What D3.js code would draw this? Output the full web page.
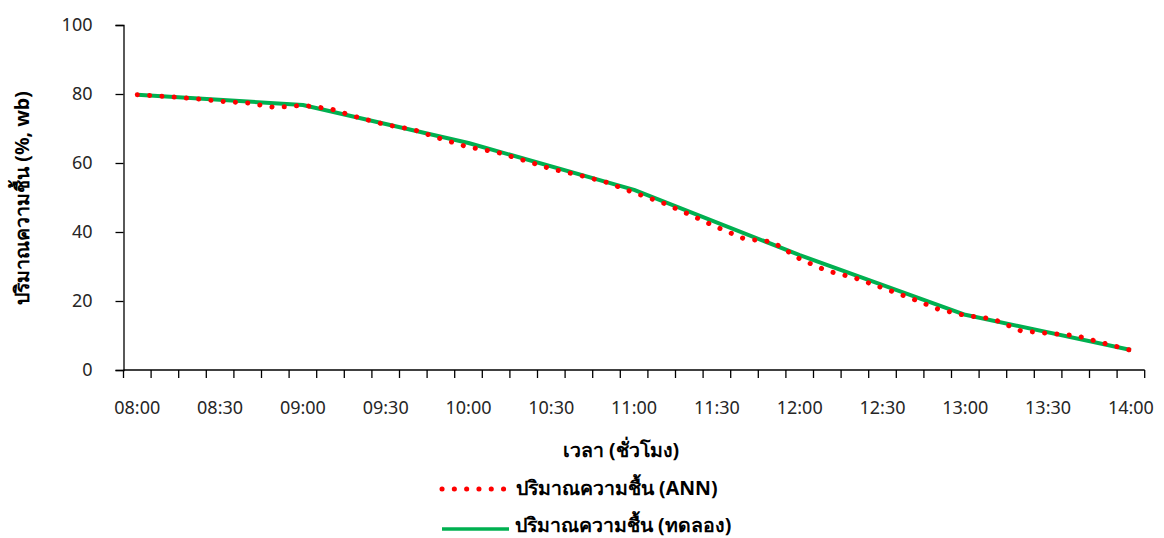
<!DOCTYPE html>
<html>
<head>
<meta charset="utf-8">
<title>Moisture content</title>
<script src="https://cdnjs.cloudflare.com/ajax/libs/d3/7.8.5/d3.min.js"></script>
<style>
    body { margin: 0; background: #fff; }
    text { font-family: "Noto Sans", sans-serif; fill: #262626; }
    .tick text { font-size: 18px; }
    .title { font-size: 19.5px; font-weight: bold; fill: #000; }
</style>
</head>
<body>
<svg id="chart" width="1164" height="538"></svg>
<script>
// 10-minute categories on the x axis
var times = ["08:00", "08:10", "08:20", "08:30", "08:40", "08:50",
    "09:00", "09:10", "09:20", "09:30", "09:40", "09:50",
    "10:00", "10:10", "10:20", "10:30", "10:40", "10:50",
    "11:00", "11:10", "11:20", "11:30", "11:40", "11:50",
    "12:00", "12:10", "12:20", "12:30", "12:40", "12:50",
    "13:00", "13:10", "13:20", "13:30", "13:40", "13:50", "14:00"];

// ANN prediction, one value per category
var annValues = [79.8, 79.3, 78.7, 77.9, 77.4, 76.1,
    76.7, 75.7, 73.2, 71.1, 69.7, 67.0,
    64.6, 63.2, 60.8, 58.3, 56.5, 54.4,
    51.4, 48.6, 45.1, 41.4, 38.0, 37.2,
    32.2, 28.7, 26.7, 23.8, 20.9, 17.7,
    15.8, 14.8, 11.4, 10.6, 10.0, 7.8, 5.7];

// experiment, measured hourly
var expTimes = ["08:00", "09:00", "10:00", "11:00", "12:00", "13:00", "14:00"];
var expValues = [79.8, 76.8, 65.8, 52.2, 33.3, 16.0, 5.8];

var yTicks = [0, 20, 40, 60, 80, 100];
var xLabels = ["08:00", "08:30", "09:00", "09:30", "10:00", "10:30", "11:00",
    "11:30", "12:00", "12:30", "13:00", "13:30", "14:00"];

var yTitle = "ปริมาณความชื้น (%, wb)";
var xTitle = "เวลา (ชั่วโมง)";
var seriesNames = ["ปริมาณความชื้น (ANN)", "ปริมาณความชื้น (ทดลอง)"];

var svg = d3.select("#chart");

var x = d3.scaleBand()
    .domain(times)
    .range([123.5, 1144.7])
    .paddingInner(0)
    .paddingOuter(0);

var y = d3.scaleLinear()
    .domain([0, 100])
    .range([370, 25]);

function cx(t) {
    return x(t) + x.bandwidth() / 2;
}

// y axis
var yAxis = svg.append("g")
    .attr("transform", "translate(123.5,0)")
    .call(d3.axisLeft(y).tickValues(yTicks).tickSize(8).tickPadding(23));
yAxis.select(".domain").attr("stroke", "#000").attr("stroke-width", 1.3);
yAxis.selectAll(".tick line").attr("stroke", "#000").attr("stroke-width", 1.3);
yAxis.selectAll(".tick text").attr("fill", "#262626");

// x axis: ticks on category edges, labels every 30 min
var xAxis = svg.append("g")
    .attr("transform", "translate(0,370)");
xAxis.append("line")
    .attr("x1", x.range()[0])
    .attr("x2", x.range()[1])
    .attr("stroke", "#000")
    .attr("stroke-width", 1.3);
var edges = times.map(function(t) { return x(t); }).concat([x.range()[1]]);
xAxis.selectAll(".xtick")
    .data(edges)
    .enter().append("line")
    .attr("class", "xtick")
    .attr("x1", function(d) { return d; })
    .attr("x2", function(d) { return d; })
    .attr("y1", 0)
    .attr("y2", 8)
    .attr("stroke", "#000")
    .attr("stroke-width", 1.3);
xAxis.selectAll(".xlabel")
    .data(xLabels)
    .enter().append("text")
    .attr("class", "xlabel")
    .attr("x", function(d) { return cx(d); })
    .attr("y", 44)
    .attr("text-anchor", "middle")
    .style("font-size", "18px")
    .text(function(d) { return d; });

// lines
var line = d3.line()
    .x(function(d) { return cx(d[0]); })
    .y(function(d) { return y(d[1]); });

svg.append("path")
    .datum(d3.zip(expTimes, expValues))
    .attr("d", line)
    .attr("fill", "none")
    .attr("stroke", "#00B050")
    .attr("stroke-width", 4)
    .attr("stroke-linejoin", "round");

svg.append("path")
    .datum(d3.zip(times, annValues))
    .attr("d", line)
    .attr("fill", "none")
    .attr("stroke", "#FF0000")
    .attr("stroke-width", 5)
    .attr("stroke-linecap", "round")
    .attr("stroke-dasharray", "0.1,12.2");

// axis titles
svg.append("text")
    .attr("class", "title")
    .attr("transform", "translate(29,198) rotate(-90)")
    .attr("text-anchor", "middle")
    .text(yTitle);

svg.append("text")
    .attr("class", "title")
    .attr("x", 621)
    .attr("y", 457)
    .attr("text-anchor", "middle")
    .text(xTitle);

// legend
var legend = svg.append("g");
legend.append("line")
    .attr("x1", 442).attr("x2", 506)
    .attr("y1", 489).attr("y2", 489)
    .attr("stroke", "#FF0000")
    .attr("stroke-width", 5)
    .attr("stroke-linecap", "round")
    .attr("stroke-dasharray", "0.1,12.2");
legend.append("text")
    .attr("class", "title")
    .attr("x", 516)
    .attr("y", 495)
    .text(seriesNames[0]);
legend.append("line")
    .attr("x1", 442).attr("x2", 509)
    .attr("y1", 529).attr("y2", 529)
    .attr("stroke", "#00B050")
    .attr("stroke-width", 3.5);
legend.append("text")
    .attr("class", "title")
    .attr("x", 515)
    .attr("y", 532)
    .text(seriesNames[1]);
</script>
</body>
</html>
